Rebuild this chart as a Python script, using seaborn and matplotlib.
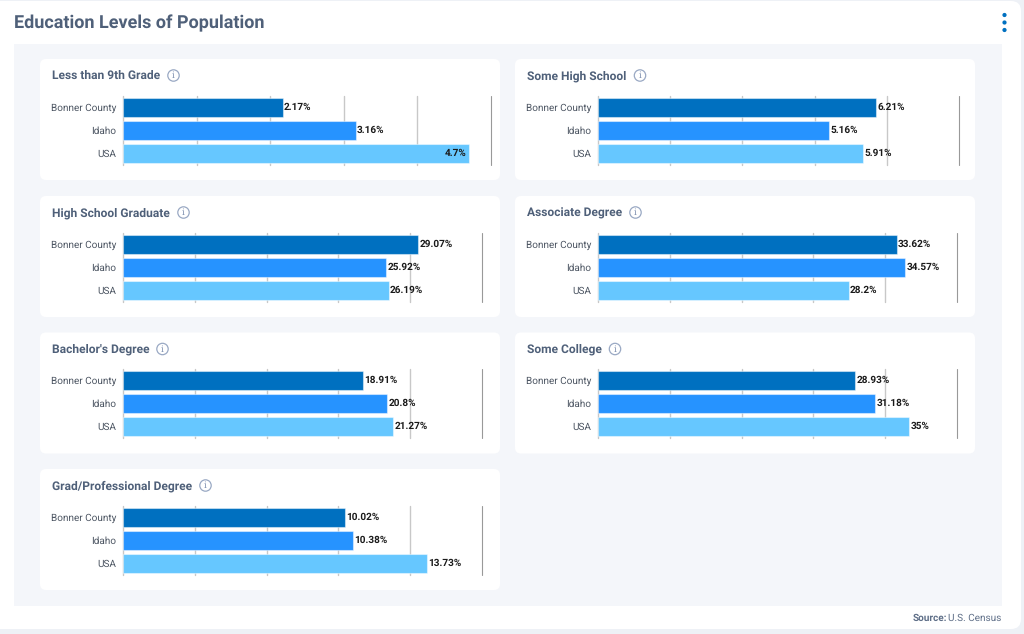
import matplotlib
matplotlib.use("Agg")
import matplotlib.pyplot as plt
from matplotlib.patches import FancyBboxPatch, Circle
import numpy as np
import pandas as pd
import seaborn as sns

# ---- data ----
geographies = ["Bonner County", "Idaho", "USA"]
categories = ["Less than 9th Grade", "Some High School", "High School Graduate",
              "Associate Degree", "Bachelor's Degree", "Some College",
              "Grad/Professional Degree"]
bonner_county = [2.17, 6.21, 29.07, 33.62, 18.91, 28.93, 10.02]
idaho = [3.16, 5.16, 25.92, 34.57, 20.8, 31.18, 10.38]
usa = [4.7, 5.91, 26.19, 28.2, 21.27, 35, 13.73]
axis_max = [5, 8.06, 35.4, 40.4, 28.3, 40.4, 16.2]
bar_colors = ["#0070c0", "#2693ff", "#66c7ff"]

# ---- layout (pixels) ----
W, H = 1024, 634
card_x = [40, 515]
card_y = [59, 196, 332.5, 469]
card_w, card_h = 460, 121
plot_left = [123, 598]
plot_right = [491, 959, 482, 957, 482, 957, 482]
icon_x = [173.5, 640, 183.5, 635.5, 162.5, 615, 205.5]

sns.set_theme(style="white")
plt.rcParams["font.family"] = ["Roboto", "DejaVu Sans"]
plt.rcParams["text.hinting"] = "no_hinting"
plt.rcParams["text.hinting_factor"] = 1
TITLE_C = "#4f6079"

fig = plt.figure(figsize=(W / 100, H / 100), dpi=100, facecolor="#eef1f6")
bg = fig.add_axes([0, 0, 1, 1], zorder=0)
bg.set_xlim(0, W); bg.set_ylim(H, 0); bg.axis("off")

def card(ax, x, y, w, h, r, color):
    ax.add_patch(FancyBboxPatch((x + r, y + r), w - 2 * r, h - 2 * r,
                                boxstyle=f"round,pad={r},rounding_size={r}",
                                fc=color, ec="none"))

card(bg, -12, 1, 1033, 628, 10, "white")
bg.add_patch(plt.Rectangle((14, 44), 988, 562, fc="#f4f6fa", ec="none"))
bg.text(14, 23.5, "Education Levels of Population", fontsize=13.17, fontweight="bold",
        color=TITLE_C, va="center", ha="left")
for yy in (15, 22.5, 30):
    bg.add_patch(Circle((1004.5, yy), 2.1, fc="#0070c0", ec="none"))

bg.text(1001, 618.5, "U.S. Census", fontsize=6.9, color="#5f6f88", ha="right", va="center")
bg.text(947, 618.5, "Source:", fontsize=6.9, fontweight="bold", color="#5f6f88", ha="right", va="center")

for i, cat in enumerate(categories):
    col, row = i % 2, i // 2
    cx, cy = card_x[col], card_y[row]
    card(bg, cx, cy, card_w, card_h, 6, "white")
    bg.text(cx + 12, cy + 17, cat, fontsize=8.8, fontweight="bold", color=TITLE_C,
            va="center", ha="left")
    bg.add_patch(Circle((icon_x[i], cy + 16.5), 5.7, fc="white", ec="#9aa9c4", lw=0.9))
    bg.text(icon_x[i], cy + 16.7, "i", fontsize=6.5, color="#7f90b0", ha="center", va="center",
            family="DejaVu Serif")

    left, right = plot_left[col], plot_right[i]
    top = round(cy) + 37
    bottom = top + 69
    ax = fig.add_axes([left / W, 1 - bottom / H, (right - left) / W, (bottom - top) / H],
                      zorder=2, facecolor="none")
    df = pd.DataFrame({"geo": geographies,
                       "value": [bonner_county[i], idaho[i], usa[i]]})
    sns.barplot(data=df, y="geo", x="value", hue="geo", palette=bar_colors, saturation=1,
                order=geographies, hue_order=geographies, dodge=False, width=0.8,
                legend=False, ax=ax, zorder=3)
    for p in ax.patches:
        p.set_edgecolor((1, 1, 1, 0.45))
        p.set_linewidth(0.8)
    xmax = axis_max[i]
    ax.set_xlim(0, xmax)
    ax.set_ylim(2.5, -0.5)
    ticks = np.linspace(0, xmax, 6)
    for k, tk in enumerate(ticks):
        ax.axvline(tk, color="#999999" if k == 5 else "#c8c8c8",
                   lw=0.8 if k == 5 else 1, zorder=1, clip_on=False)
    ax.set_xticks([])
    ax.set_xlabel(""); ax.set_ylabel("")
    ax.tick_params(axis="y", length=0, pad=5, labelsize=7.25, labelcolor="#4d5663")
    sns.despine(ax=ax, left=True, bottom=True, top=True, right=True)

    px_per_unit = (right - left) / xmax
    for j, v in enumerate(df["value"]):
        lab = f"{v:g}%"
        x_end_px = v * px_per_unit
        # a label that would run past the plot sits inside the bar end
        if x_end_px + 2 + 22 > (right - left):
            ax.annotate(lab, (v, j), xytext=(-2, 0), textcoords="offset points",
                        ha="right", va="center", fontsize=7.5, fontweight="bold",
                        color="#1a1a1a", zorder=5)
        else:
            ax.annotate(lab, (v, j), xytext=(1, 0), textcoords="offset points",
                        ha="left", va="center", fontsize=7.5, fontweight="bold",
                        color="#1a1a1a", zorder=5)

fig.savefig("out.png", dpi=100, facecolor=fig.get_facecolor())
